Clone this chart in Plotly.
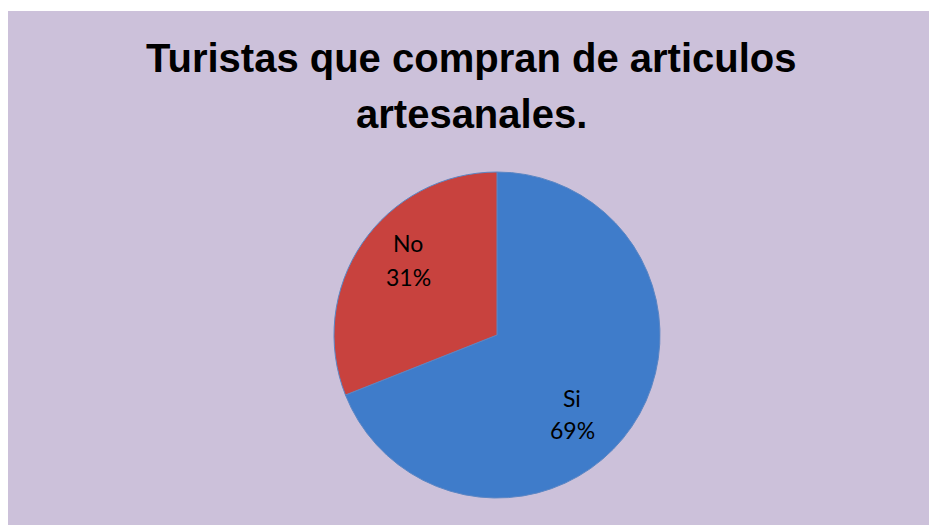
import plotly.graph_objects as go

labels = ["Si", "No"]
values = [69, 31]
colors = ["#3F7CCA", "#C8423E"]
title_lines = ["Turistas que compran de articulos", "artesanales."]

W, H = 929, 525


def px(x):
    return x / W


def py(y):
    return 1 - y / H


cx, cy, r = 497, 335, 163

fig = go.Figure(go.Pie(
    labels=labels,
    values=values,
    sort=False,
    direction="clockwise",
    rotation=0,
    marker=dict(colors=colors, line=dict(color="#5B86C4", width=1)),
    textinfo="none",
    showlegend=False,
    hoverinfo="skip",
    domain=dict(x=[px(cx - r), px(cx + r)], y=[py(cy + r), py(cy - r)]),
))

fig.add_shape(type="rect", xref="paper", yref="paper",
              x0=px(8), x1=1.0, y0=0, y1=py(11),
              fillcolor="#CCC1DA", line=dict(width=0), layer="below")

title_font = dict(family="Liberation Sans, Arial, sans-serif", size=40, color="#000000")
for text, yc in zip(title_lines, [58, 114]):
    fig.add_annotation(text=f"<b>{text}</b>", xref="paper", yref="paper",
                       x=px(471), y=py(yc), xanchor="center", yanchor="middle",
                       showarrow=False, font=title_font)

total = sum(values)
label_pos = {"Si": (572, 398, 430), "No": (408, 243, 277)}
label_font = dict(family="Lato, Open Sans, sans-serif", size=23, color="#000000")
for lab, val in zip(labels, values):
    lx, ly1, ly2 = label_pos[lab]
    fig.add_annotation(text=lab, xref="paper", yref="paper", x=px(lx), y=py(ly1),
                       xanchor="center", yanchor="middle", showarrow=False, font=label_font)
    fig.add_annotation(text=f"{round(100 * val / total)}%", xref="paper", yref="paper",
                       x=px(lx), y=py(ly2), xanchor="center", yanchor="middle",
                       showarrow=False, font=label_font)

fig.update_layout(
    width=W, height=H,
    margin=dict(l=0, r=0, t=0, b=0),
    paper_bgcolor="#FFFFFF",
)

fig.write_html("out.html",
               config={"displayModeBar": False},
               post_script="document.body.style.margin='0';document.body.style.overflow='hidden';")
